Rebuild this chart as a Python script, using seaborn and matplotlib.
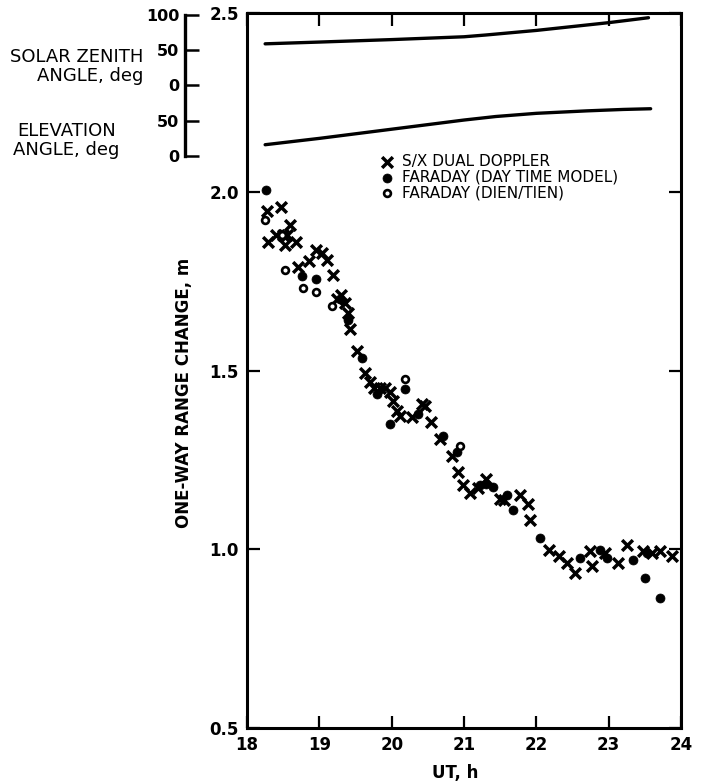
import numpy as np
import pandas as pd
import matplotlib
matplotlib.use("Agg")
import matplotlib.pyplot as plt
import seaborn as sns

# ---------------- data ----------------
# S/X dual doppler, one-way range change (m) vs UT (h)
sx_ut = [18.27, 18.29, 18.40, 18.47, 18.50, 18.53, 18.55, 18.60, 18.68, 18.71,
         18.86, 18.95, 19.03, 19.10, 19.19, 19.25, 19.30, 19.36, 19.40, 19.42,
         19.52, 19.63, 19.70, 19.76, 19.84, 19.91, 19.98, 20.02, 20.07, 20.12,
         20.28, 20.42, 20.46, 20.55, 20.67, 20.83, 20.92, 20.99, 21.08, 21.20,
         21.31, 21.50, 21.55, 21.78, 21.89, 21.91, 22.17, 22.31, 22.42, 22.54,
         22.74, 22.77, 22.95, 23.13, 23.25, 23.48, 23.60, 23.71, 23.87]
sx_range = [1.947, 1.860, 1.880, 1.956, 1.880, 1.850, 1.880, 1.906, 1.860, 1.790,
            1.806, 1.836, 1.829, 1.810, 1.767, 1.700, 1.710, 1.690, 1.660, 1.616,
            1.554, 1.494, 1.467, 1.450, 1.450, 1.452, 1.440, 1.415, 1.387, 1.373,
            1.369, 1.406, 1.400, 1.355, 1.308, 1.262, 1.216, 1.179, 1.156, 1.170,
            1.197, 1.142, 1.137, 1.151, 1.128, 1.081, 0.998, 0.980, 0.961, 0.933,
            0.994, 0.952, 0.990, 0.961, 1.012, 0.994, 0.990, 0.994, 0.980]

# Faraday rotation, day time model
fd_ut = [18.26, 18.76, 18.95, 19.28, 19.40, 19.59, 19.79, 19.98, 20.19, 20.37,
         20.71, 20.90, 21.22, 21.31, 21.40, 21.59, 21.68, 22.05, 22.61, 22.88,
         22.97, 23.34, 23.50, 23.53, 23.71]
fd_range = [2.005, 1.764, 1.755, 1.700, 1.640, 1.535, 1.433, 1.350, 1.449, 1.378,
            1.318, 1.271, 1.180, 1.183, 1.175, 1.151, 1.109, 1.031, 0.975, 0.998,
            0.975, 0.970, 0.921, 0.989, 0.865]

# Faraday rotation, DIEN/TIEN
fo_ut = [18.25, 18.48, 18.52, 18.77, 18.95, 19.18, 20.19, 20.95]
fo_range = [1.920, 1.878, 1.780, 1.730, 1.720, 1.680, 1.475, 1.290]

# geometry curves for the top panel
zen_ut = [18.25, 19.0, 20.0, 21.0, 21.3, 22.0, 23.0, 23.55]
zen_deg = [59, 61.5, 65, 69, 71.5, 78, 89, 96]
elev_ut = [18.25, 19.0, 20.0, 21.0, 21.44, 22.0, 22.7, 23.2, 23.58]
elev_deg = [16, 25, 38, 51, 56, 60.5, 64, 66, 67]

x_ticks = [18, 19, 20, 21, 22, 23, 24]
y_ticks = [0.5, 1.0, 1.5, 2.0, 2.5]
y_ticklabels = ["0.5", "1.0", "1.5", "2.0", "2.5"]
angle_ticks = [0, 50, 100, 150, 200]
angle_ticklabels = ["0", "50", "0", "50", "100"]

sx_df = pd.DataFrame({"ut": sx_ut, "range": sx_range})
fd_df = pd.DataFrame({"ut": fd_ut, "range": fd_range})
fo_df = pd.DataFrame({"ut": fo_ut, "range": fo_range})

# ---------------- style ----------------
sns.set_style("ticks")
plt.rcParams["font.family"] = ["DejaVu Sans"]
plt.rcParams["axes.linewidth"] = 2.2
plt.rcParams["text.color"] = "black"
plt.rcParams["axes.labelcolor"] = "black"
plt.rcParams["axes.edgecolor"] = "black"
plt.rcParams["xtick.color"] = "black"
plt.rcParams["ytick.color"] = "black"

fig = plt.figure(figsize=(7.05, 7.84), dpi=100)
ax = fig.add_axes([0.3504, 0.0714, 0.6156, 0.912])

sns.scatterplot(data=sx_df, x="ut", y="range", ax=ax, marker="x", s=60,
                color="black", linewidth=2.5, label="S/X DUAL DOPPLER", zorder=3)
sns.scatterplot(data=fd_df, x="ut", y="range", ax=ax, marker="o", s=42,
                color="black", edgecolor="black", linewidth=0.5,
                label="FARADAY (DAY TIME MODEL)", zorder=3)
sns.scatterplot(data=fo_df, x="ut", y="range", ax=ax, marker="o", s=24,
                color="white", edgecolor="black", linewidth=1.9,
                label="FARADAY (DIEN/TIEN)", zorder=4)

ax.set_xlim(18, 24)
ax.set_ylim(0.5, 2.5)
ax.set_xticks(x_ticks)
ax.set_yticks(y_ticks)
ax.set_yticklabels(y_ticklabels)
ax.tick_params(direction="in", length=9, width=1.6, top=True, right=True,
               labelsize=12, pad=6)
for lab in ax.get_xticklabels() + ax.get_yticklabels():
    lab.set_fontweight("bold")
for sp in ax.spines.values():
    sp.set_visible(True)
    sp.set_linewidth(2.2)

ax.set_xlabel("UT, h", fontsize=12, fontweight="bold")
ax.set_ylabel("ONE-WAY RANGE CHANGE, m", fontsize=12, fontweight="bold")
ax.xaxis.set_label_coords(0.479, -0.05)
ax.yaxis.set_label_coords(-0.125, 0.4685)

ax.legend(loc="upper left", bbox_to_anchor=(0.525, 0.8135),
          bbox_transform=fig.transFigure, frameon=False, fontsize=11,
          handletextpad=0.4, labelspacing=0.05, borderpad=0,
          handlelength=1.2, markerscale=1.0)

# ---------------- top panel (angles) ----------------
ax2 = fig.add_axes([0.2624, 0.801, 0.7036, 0.18])
ax2.patch.set_alpha(0)
sns.lineplot(x=zen_ut, y=np.array(zen_deg) + 100, ax=ax2, color="black",
             linewidth=2.4, sort=True)
sns.lineplot(x=elev_ut, y=elev_deg, ax=ax2, color="black", linewidth=2.4,
             sort=True)
ax2.set_xlim(17.142, 24)
ax2.set_ylim(0, 200)
ax2.set_xticks([])
ax2.set_yticks(angle_ticks)
ax2.set_yticklabels(angle_ticklabels)
ax2.tick_params(axis="y", direction="in", length=10, width=1.8,
                labelsize=11.5, pad=4)
for lab in ax2.get_yticklabels():
    lab.set_fontweight("bold")
for side in ["top", "right", "bottom"]:
    ax2.spines[side].set_visible(False)
ax2.spines["left"].set_linewidth(2.4)
ax2.set_xlabel("")
ax2.set_ylabel("")

fig.text(0.204, 0.915, "SOLAR ZENITH\nANGLE, deg", ha="right", va="center",
         fontsize=13, multialignment="right", linespacing=1.05)
fig.text(0.094, 0.821, "ELEVATION\nANGLE, deg", ha="center", va="center",
         fontsize=13, multialignment="center", linespacing=1.05)

fig.savefig("out.png", dpi=100)
